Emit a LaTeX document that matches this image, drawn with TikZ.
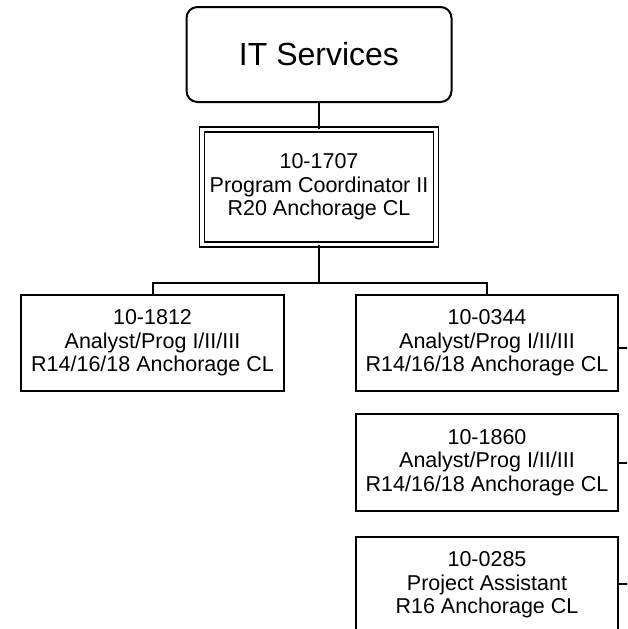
\documentclass[tikz,border=0pt]{standalone}
\usepackage{fontspec}
\setmainfont{Liberation Sans}
\begin{document}
\begin{tikzpicture}[x=1pt,y=-1pt,
  line width=2pt,
  box/.style={draw, line width=2pt, minimum width=262pt, minimum height=96pt, inner sep=0pt, align=center, font=\fontsize{21.5}{23.5}\selectfont},
  conn/.style={line width=2pt}
]
\useasboundingbox (0,0) rectangle (627,629);
\clip (0,0) rectangle (627,629);
\node[draw, rounded corners=11pt, minimum width=265pt, minimum height=95pt, inner sep=0pt, font=\fontsize{32}{36}\selectfont] (it) at (319,54.5) {IT Services};
\node[draw, double, line width=1.5pt, double distance=3.5pt, minimum width=234pt, minimum height=115pt, inner sep=0pt, align=center, font=\fontsize{21.5}{23.5}\selectfont] (pc) at (319,187) {10-1707\\Program Coordinator II\\R20 Anchorage CL};
\node[box, minimum width=263pt] (a1812) at (152.5,343) {10-1812\\Analyst/Prog I/II/III\\R14/16/18 Anchorage CL};
\node[box] (a0344) at (487,343) {10-0344\\Analyst/Prog I/II/III\\R14/16/18 Anchorage CL};
\node[box, minimum height=97pt] (a1860) at (487,462.5) {10-1860\\Analyst/Prog I/II/III\\R14/16/18 Anchorage CL};
\node[box] (a0285) at (487,585) {10-0285\\Project Assistant\\R16 Anchorage CL};
\coordinate (bus) at (319,283);
\coordinate (t1) at (632,348);
\coordinate (t2) at (632,462.5);
\coordinate (t3) at (632,584);
\draw[conn] (it.south) -- (pc.north);
\draw[conn] (pc.south) -- (bus);
\draw[conn] (a1812.north) |- (bus) -| (a0344.north);
\draw[conn] (a0344.east |- t1) -- (t1);
\draw[conn] (a1860.east |- t2) -- (t2);
\draw[conn] (a0285.east |- t3) -- (t3);
\end{tikzpicture}
\end{document}
